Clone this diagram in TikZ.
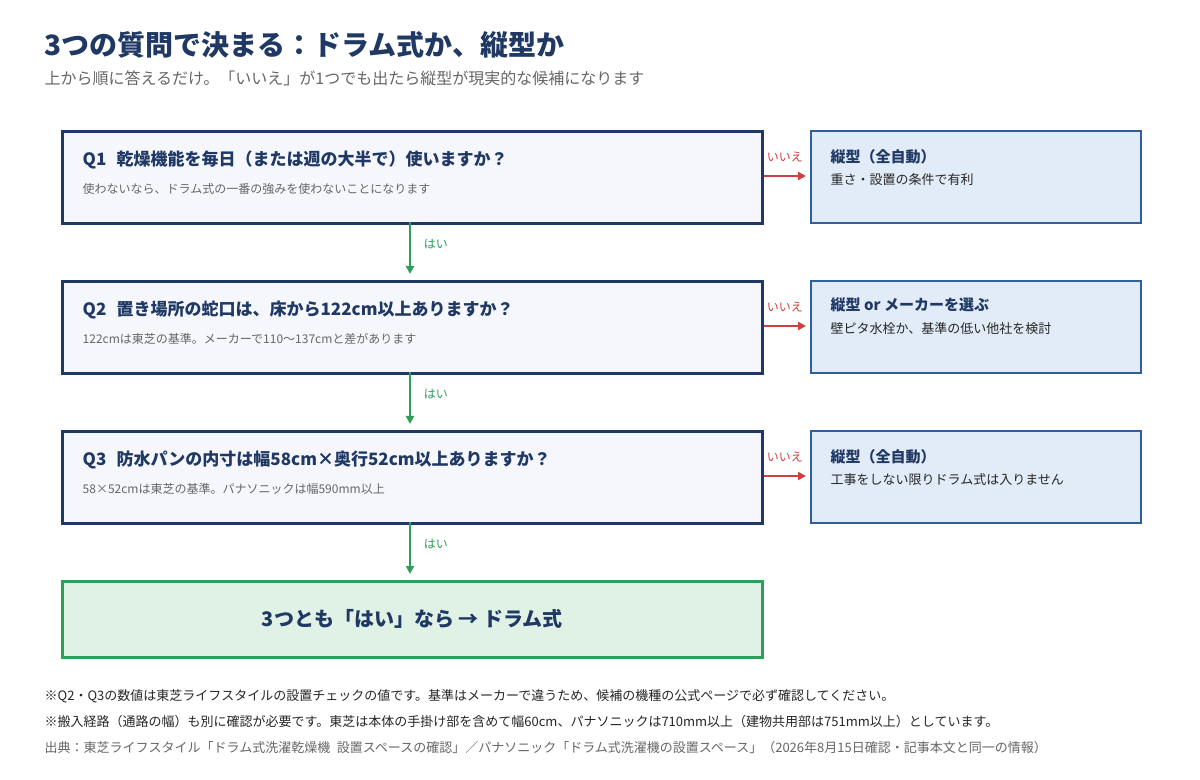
\documentclass[tikz,border=0pt]{standalone}
\usepackage{fontspec}
\setmainfont{Noto Sans CJK JP}
\usetikzlibrary{arrows.meta}
\definecolor{navy}{HTML}{1F3864}
\definecolor{qfill}{HTML}{F5F7FC}
\definecolor{rfill}{HTML}{E2ECF8}
\definecolor{rline}{HTML}{2F5F9E}
\definecolor{gfill}{HTML}{E0F2E6}
\definecolor{gline}{HTML}{2E9E5B}
\definecolor{red1}{HTML}{D04040}
\definecolor{gry}{HTML}{666666}
\newcommand{\px}[1]{\fontsize{\the\dimexpr #1pt*3/4\relax}{\the\dimexpr #1pt*9/10\relax}\selectfont}
\begin{document}
\begin{tikzpicture}[x=0.75pt,y=-0.75pt,
 qbox/.style={draw=navy,line width=2pt,fill=qfill,minimum width=700*0.75pt,minimum height=92*0.75pt,anchor=north west,inner sep=0},
 rbox/.style={draw=rline,line width=1.5pt,fill=rfill,minimum width=330*0.75pt,minimum height=92*0.75pt,anchor=north west,inner sep=0},
 qt/.style={anchor=west,text=navy,font=\px{17}\bfseries},
 qs/.style={anchor=west,text=gry,font=\px{12}},
 rt/.style={anchor=west,text=navy,font=\px{15}\bfseries},
 rs/.style={anchor=west,text=black!85,font=\px{13}},
 yes/.style={draw=gline,line width=2pt,-{Triangle[length=6pt,width=6pt]}},
 no/.style={draw=red1,line width=2pt,-{Triangle[length=6pt,width=6pt]}},
 yl/.style={text=gline,font=\px{12}},
 nl/.style={text=red1,font=\px{12}}]
\useasboundingbox (0,0) rectangle (1200,780);
\fill[white] (0,0) rectangle (1200,780);
\node[anchor=west,text=navy,font=\px{28}\bfseries] (title) at (40,45) {3つの質問で決まる：ドラム式か、縦型か};
\node[anchor=west,text=gry,font=\px{16}] (sub) at (40,78) {上から順に答えるだけ。「いいえ」が1つでも出たら縦型が現実的な候補になります};
% Q boxes
\node[qbox] (q1) at (61,130) {};
\node[qbox] (q2) at (61,280) {};
\node[qbox] (q3) at (61,430) {};
\node[rbox] (r1) at (810,130) {};
\node[rbox] (r2) at (810,280) {};
\node[rbox] (r3) at (810,430) {};
\node[draw=gline,line width=2pt,fill=gfill,minimum width=700*0.75pt,minimum height=76*0.75pt,anchor=north west,inner sep=0] (fin) at (61,580) {};
\node[text=navy,font=\px{20}\bfseries] (fint) at (fin.center) {3つとも「はい」なら → ドラム式};
\node[qt] (q1t) at (78,160) {Q1\hspace{0.6em}乾燥機能を毎日（または週の大半で）使いますか？};
\node[qs] (q1s) at (78,189) {使わないなら、ドラム式の一番の強みを使わないことになります};
\node[qt] (q2t) at (78,310) {Q2\hspace{0.6em}置き場所の蛇口は、床から122cm以上ありますか？};
\node[qs] (q2s) at (78,339) {122cmは東芝の基準。メーカーで110〜137cmと差があります};
\node[qt] (q3t) at (78,460) {Q3\hspace{0.6em}防水パンの内寸は幅58cm×奥行52cm以上ありますか？};
\node[qs] (q3s) at (78,489) {58×52cmは東芝の基準。パナソニックは幅590mm以上};
\node[rt] (r1t) at (826,157) {縦型（全自動）};
\node[rs] (r1s) at (826,180) {重さ・設置の条件で有利};
\node[rt] (r2t) at (826,305) {縦型 or メーカーを選ぶ};
\node[rs] (r2s) at (826,329) {壁ピタ水栓か、基準の低い他社を検討};
\node[rt] (r3t) at (826,457) {縦型（全自動）};
\node[rs] (r3s) at (826,480) {工事をしない限りドラム式は入りません};
% arrows
\coordinate (a1) at (410,222); \coordinate (b1) at (410,274);
\coordinate (a2) at (410,372); \coordinate (b2) at (410,424);
\coordinate (a3) at (410,522); \coordinate (b3) at (410,574);
\draw[yes] (a1) -- (b1) node[yl,midway,right=6pt,yshift=3pt] {はい};
\draw[yes] (a2) -- (b2) node[yl,midway,right=6pt,yshift=3pt] {はい};
\draw[yes] (a3) -- (b3) node[yl,midway,right=6pt,yshift=3pt] {はい};
\draw[no] (q1.east|-0,176) -- (806,176) node[nl,midway,above=6pt] {いいえ};
\draw[no] (q2.east|-0,326) -- (806,326) node[nl,midway,above=6pt] {いいえ};
\draw[no] (q3.east|-0,476) -- (806,476) node[nl,midway,above=6pt] {いいえ};
\node[anchor=west,text=black!85,font=\px{13}] (n1) at (40,696) {※Q2・Q3の数値は東芝ライフスタイルの設置チェックの値です。基準はメーカーで違うため、候補の機種の公式ページで必ず確認してください。};
\node[anchor=west,text=black!85,font=\px{13}] (n2) at (40,722) {※搬入経路（通路の幅）も別に確認が必要です。東芝は本体の手掛け部を含めて幅60cm、パナソニックは710mm以上（建物共用部は751mm以上）としています。};
\node[anchor=west,text=gry,font=\px{13}] (n3) at (40,748) {出典：東芝ライフスタイル「ドラム式洗濯乾燥機\hspace{0.5em}設置スペースの確認」／パナソニック「ドラム式洗濯機の設置スペース」（2026年8月15日確認・記事本文と同一の情報）};
\end{tikzpicture}
\end{document}
